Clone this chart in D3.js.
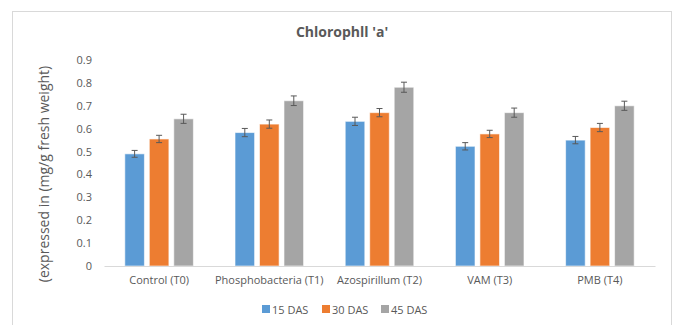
<!DOCTYPE html>
<html><head><meta charset="utf-8">
<script src="https://cdn.jsdelivr.net/npm/d3@7"></script>
<style>body{margin:0;background:#fff}text{font-family:"Open Sans",Calibri,sans-serif}</style>
</head><body><svg id="c" width="675" height="325"></svg>
<script>
const categories = ["Control (T0)", "Phosphobacteria (T1)", "Azospirillum (T2)", "VAM  (T3)", "PMB (T4)"];
const seriesNames = ["15 DAS", "30 DAS", "45 DAS"];
const das15 = [0.49, 0.583, 0.632, 0.523, 0.55];
const das30 = [0.555, 0.62, 0.67, 0.577, 0.605];
const das45 = [0.643, 0.722, 0.781, 0.67, 0.70];
const err15 = [0.015, 0.018, 0.018, 0.016, 0.016];
const err30 = [0.016, 0.018, 0.018, 0.016, 0.018];
const err45 = [0.02, 0.021, 0.022, 0.02, 0.02];
const yTicks = [0, 0.1, 0.2, 0.3, 0.4, 0.5, 0.6, 0.7, 0.8, 0.9];
const colors = ["#5B9BD5", "#ED7D31", "#A5A5A5"];

const values = [das15, das30, das45];
const errors = [err15, err30, err45];
const svg = d3.select("#c");

svg.append("rect").attr("x", 12.5).attr("y", 11.5).attr("width", 659).attr("height", 330)
  .attr("fill", "#fff").attr("stroke", "#d9d9d9");

const x0 = d3.scaleBand().domain(categories).range([104, 655]);
const x1 = d3.scaleBand().domain(seriesNames).range([0, x0.bandwidth()]).paddingInner(0.2).paddingOuter(0.85);
const y = d3.scaleLinear().domain([0, 0.9]).range([266, 60]);

svg.append("text").attr("x", 342).attr("y", 37).attr("text-anchor", "middle")
  .attr("font-size", 14).attr("font-weight", "bold").attr("fill", "#595959").text("Chlorophll 'a'");

// y axis labels
const ya = svg.append("g").attr("transform", "translate(104,0)")
  .call(d3.axisLeft(y).tickValues(yTicks).tickSize(0).tickPadding(12).tickFormat(d => d === 0 ? "0" : d3.format(".1f")(d)));
ya.select(".domain").remove();
ya.selectAll("text").attr("font-size", 11).attr("fill", "#595959").style("font-family", "'Open Sans',sans-serif");

// bars
categories.forEach((c, i) => {
  const g = svg.append("g").attr("transform", `translate(${x0(c)},0)`);
  seriesNames.forEach((s, k) => {
    const v = values[k][i], e = errors[k][i];
    const bx = x1(s), bw = x1.bandwidth();
    g.append("rect").attr("x", bx).attr("y", y(v)).attr("width", bw).attr("height", y(0) - y(v))
      .attr("fill", colors[k]).attr("stroke", "#ffffff").attr("stroke-opacity", 0.6).attr("stroke-width", 1);
    const cx = bx + bw / 2;
    g.append("line").attr("x1", cx).attr("x2", cx).attr("y1", y(v + e)).attr("y2", y(v - e)).attr("stroke", "#595959").attr("stroke-width", 1);
    [v + e, v - e].forEach(t => g.append("line").attr("x1", cx - 3).attr("x2", cx + 3).attr("y1", y(t)).attr("y2", y(t)).attr("stroke", "#595959").attr("stroke-width", 1));
  });
});

// x axis
const xa = svg.append("g").attr("transform", "translate(0,266)").call(d3.axisBottom(x0).tickSize(0).tickPadding(10));
xa.select(".domain").attr("stroke", "#d9d9d9");
xa.selectAll("text").attr("font-size", 11).attr("fill", "#595959").style("font-family", "'Open Sans',sans-serif");

// y title
svg.append("text").attr("transform", "translate(49,174) rotate(-90)").attr("text-anchor", "middle")
  .attr("font-size", 14).attr("fill", "#595959").text("(expressed in (mg/g fresh weight)");

// legend
const legX = [262, 322, 381];
seriesNames.forEach((s, k) => {
  svg.append("rect").attr("x", legX[k]).attr("y", 305).attr("width", 8).attr("height", 8).attr("fill", colors[k]);
  svg.append("text").attr("x", legX[k] + 10).attr("y", 313.5).attr("font-size", 11).attr("fill", "#595959").text(s);
});
</script></body></html>
